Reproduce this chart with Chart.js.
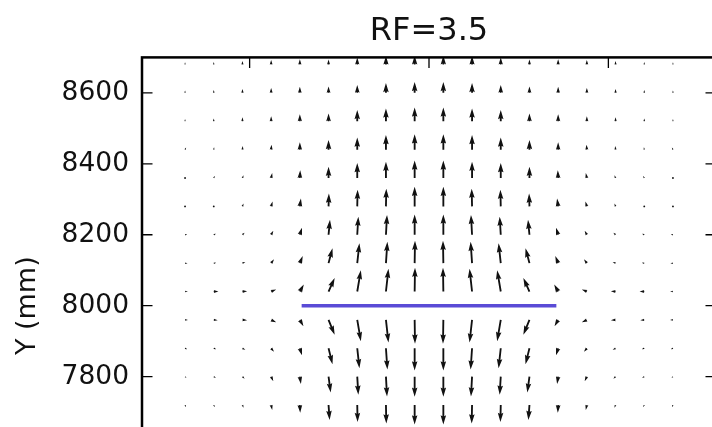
<!DOCTYPE html>
<html>
<head>
<meta charset="utf-8">
<title>RF=3.5</title>
<script src="https://cdn.jsdelivr.net/npm/chart.js@4.4.1/dist/chart.umd.min.js"></script>
<style>
    html, body { margin: 0; padding: 0; overflow: hidden; background: #fff; }
    canvas { display: block; }
</style>
</head>
<body>
<canvas id="quiverChart" width="760" height="620"></canvas>
<script>
// ======================
// DATA (mm)
// ======================
const columnsX = [-680, -600, -520, -440, -360, -280, -200, -120, -40, 40, 120, 200, 280, 360, 440, 520, 600, 680];
const rowsY = [8680, 8600, 8520, 8440, 8360, 8280, 8200, 8120, 8040, 7960, 7880, 7800, 7720];

// horizontal component of each arrow, one line per row
const uRows = [
    [0, 0, 0, 0, 0, 0, 0, 0, 0, 0, 0, 0, 0, 0, 0, 0, 0, 0],
    [0, 0, 0, 0, 0, 0, 0, 0, 0, 0, 0, 0, 0, 0, 0, 0, 0, 0],
    [0, 0, 0, 0, 0, 0, 0, 0, 0, 0, 0, 0, 0, 0, 0, 0, 0, 0],
    [3, 1, 1, 1, 0, 0, 0, 0, 0, 0, 0, 0, 0, 0, -1, -1, -1, -3],
    [3, 3, 3, 3, 1, 0, 0, 0, 0, 0, 0, 0, 0, -1, -3, -3, -3, -3],
    [4, 4, 3, 4, 3, 1, 1, 1, 0, 0, -1, -1, -1, -3, -4, -3, -4, -4],
    [6, 6, 6, 6, 6, 4, 3, 3, 0, 0, -3, -3, -4, -6, -6, -6, -6, -6],
    [7, 7, 8, 8, 8, 11, 6, 4, 1, -1, -4, -6, -11, -8, -8, -8, -7, -7],
    [8, 13, 13, 14, 11, 17, 10, 7, 1, -1, -7, -10, -17, -11, -14, -13, -13, -8],
    [8, 11, 13, 14, 10, 17, 10, 7, 1, -1, -7, -10, -17, -10, -14, -13, -11, -8],
    [6, 7, 8, 8, 6, 11, 6, 4, 0, 0, -4, -6, -11, -6, -8, -8, -7, -6],
    [4, 6, 6, 6, 3, 6, 3, 3, 0, 0, -3, -3, -6, -3, -6, -6, -6, -4],
    [3, 3, 3, 3, 1, 3, 1, 1, 0, 0, -1, -1, -3, -1, -3, -3, -3, -3]
];

// vertical component of each arrow
const vRows = [
    [6, 7, 10, 13, 15, 14, 20, 24, 25, 25, 24, 20, 14, 15, 13, 10, 7, 6],
    [7, 8, 11, 14, 17, 18, 22, 28, 31, 31, 28, 22, 18, 17, 14, 11, 8, 7],
    [6, 8, 11, 14, 20, 22, 32, 36, 39, 39, 36, 32, 22, 20, 14, 11, 8, 6],
    [6, 7, 10, 14, 21, 27, 34, 41, 43, 43, 41, 34, 27, 21, 14, 10, 7, 6],
    [3, 6, 8, 14, 22, 32, 42, 46, 49, 49, 46, 42, 32, 22, 14, 8, 6, 3],
    [3, 3, 8, 14, 22, 36, 47, 50, 55, 55, 50, 47, 36, 22, 14, 8, 3, 3],
    [1, 3, 6, 11, 20, 42, 51, 56, 57, 57, 56, 51, 42, 20, 11, 6, 3, 1],
    [0, 1, 3, 11, 20, 42, 56, 60, 63, 63, 60, 56, 42, 20, 11, 3, 1, 0],
    [0, 0, 1, 6, 20, 38, 60, 64, 67, 67, 64, 60, 38, 20, 6, 1, 0, 0],
    [0, -1, -1, -7, -18, -42, -60, -64, -67, -67, -64, -60, -42, -18, -7, -1, -1, 0],
    [-3, -3, -4, -10, -20, -45, -56, -60, -63, -63, -60, -56, -45, -20, -10, -4, -3, -3],
    [-4, -4, -6, -13, -21, -45, -51, -56, -57, -57, -56, -51, -45, -21, -13, -6, -4, -4],
    [-6, -6, -8, -14, -22, -42, -48, -52, -55, -55, -52, -48, -42, -22, -14, -8, -6, -6]
];

// plate
const plateX = [-355, 355];
const plateY = [8000, 8000];

// ticks
const yTicks = [7400, 7600, 7800, 8000, 8200, 8400, 8600];
const xTicks = [-500, 0, 500];

const FONT = "'DejaVu Sans', 'Liberation Sans', sans-serif";
const TICK_LEN = 10.5;

// ======================
// ARROWS
// ======================
// arrow polygon in shaft widths: head width 3, head length 5, head axis length 4.5
function drawArrow(ctx, x0, y0, x1, y1, w) {
    const len = Math.hypot(x1 - x0, y1 - y0) / w;

    if (len < 1) {
        ctx.beginPath();
        ctx.arc(x0, y0, w / 2, 0, Math.PI * 2);
        ctx.fill();
        return;
    }

    let X = [0, len - 4.5, len - 5, len];
    let Y = [0.5, 0.5, 1.5, 0];
    if (len < 5) {
        // short arrows shrink as a whole
        const k = len / 5;
        X = [0, 0.5 * k, 0, 5 * k];
        Y = Y.map(v => v * k);
    }

    ctx.save();
    ctx.translate(x0, y0);
    ctx.rotate(Math.atan2(y1 - y0, x1 - x0));
    ctx.scale(w, w);
    ctx.beginPath();
    ctx.moveTo(X[0], Y[0]);
    ctx.lineTo(X[1], Y[1]);
    ctx.lineTo(X[2], Y[2]);
    ctx.lineTo(X[3], Y[3]);
    ctx.lineTo(X[2], -Y[2]);
    ctx.lineTo(X[1], -Y[1]);
    ctx.lineTo(X[0], -Y[0]);
    ctx.closePath();
    ctx.fill();
    ctx.restore();
}

const quiverPlugin = {
    id: 'quiver',
    afterDatasetsDraw(chart) {
        const { ctx, chartArea: a } = chart;
        const xs = chart.scales.x;
        const ys = chart.scales.y;

        chart.data.datasets.forEach((ds, i) => {
            if (!ds.quiver) return;
            const meta = chart.getDatasetMeta(i);

            ctx.save();
            ctx.beginPath();
            ctx.rect(a.left, a.top, a.right - a.left, a.bottom - a.top);
            ctx.clip();
            ctx.fillStyle = ds.arrowColor;

            meta.data.forEach((pt, j) => {
                const d = ds.data[j];
                const tx = xs.getPixelForValue(d.x + d.u);
                const ty = ys.getPixelForValue(d.y + d.v);
                drawArrow(ctx, pt.x, pt.y, tx, ty, ds.shaftWidth);
            });

            ctx.restore();
        });
    }
};

// box round the axes with inward ticks
const framePlugin = {
    id: 'frame',
    afterDraw(chart) {
        const { ctx, chartArea: a } = chart;
        const xs = chart.scales.x;
        const ys = chart.scales.y;

        ctx.save();
        ctx.strokeStyle = '#000';
        ctx.lineWidth = 1.3;
        ctx.beginPath();
        yTicks.forEach(t => {
            const py = ys.getPixelForValue(t);
            ctx.moveTo(a.left, py);
            ctx.lineTo(a.left + TICK_LEN, py);
            ctx.moveTo(a.right, py);
            ctx.lineTo(a.right - TICK_LEN, py);
        });
        xTicks.forEach(t => {
            const px = xs.getPixelForValue(t);
            ctx.moveTo(px, a.top);
            ctx.lineTo(px, a.top + TICK_LEN);
            ctx.moveTo(px, a.bottom);
            ctx.lineTo(px, a.bottom - TICK_LEN);
        });
        ctx.stroke();

        ctx.lineWidth = 2.5;
        ctx.strokeRect(a.left, a.top, a.right - a.left, a.bottom - a.top);
        ctx.restore();
    }
};

// ======================
// CHART
// ======================
const quiverPoints = [];
rowsY.forEach((y, r) => {
    columnsX.forEach((x, c) => {
        quiverPoints.push({ x, y, u: uRows[r][c], v: vRows[r][c] });
    });
});

new Chart(document.getElementById('quiverChart'), {
    type: 'scatter',
    data: {
        datasets: [
            {
                label: 'plate',
                data: plateX.map((x, i) => ({ x, y: plateY[i] })),
                showLine: true,
                borderColor: '#5a4bd6',
                borderWidth: 3.5,
                pointRadius: 0,
                pointHoverRadius: 0
            },
            {
                label: 'field',
                data: quiverPoints,
                quiver: true,
                arrowColor: '#111',
                shaftWidth: 1.85,
                pointRadius: 0,
                pointHoverRadius: 0
            }
        ]
    },
    options: {
        responsive: false,
        animation: false,
        events: [],
        layout: {
            padding: { top: 0, right: 44, bottom: 66, left: 0 }
        },
        scales: {
            x: {
                type: 'linear',
                min: -800,
                max: 800,
                display: false
            },
            y: {
                type: 'linear',
                min: 7300,
                max: 8700,
                afterBuildTicks: s => { s.ticks = yTicks.map(value => ({ value })); },
                afterFit: s => { s.width = 142; },
                grid: { display: false, drawTicks: false },
                border: { display: false },
                ticks: {
                    color: '#111',
                    padding: 13,
                    font: { family: FONT, size: 26.5 },
                    callback: v => String(v)
                },
                title: {
                    display: true,
                    text: 'Y (mm)',
                    color: '#111',
                    font: { family: FONT, size: 27 },
                    padding: { top: 12, bottom: 0 }
                }
            }
        },
        plugins: {
            legend: { display: false },
            tooltip: { enabled: false },
            title: {
                display: true,
                text: 'RF=3.5',
                fullSize: false,
                color: '#111',
                font: { family: FONT, size: 32, weight: 'normal' },
                padding: { top: 12, bottom: 7 }
            }
        }
    },
    plugins: [quiverPlugin, framePlugin]
});
</script>
</body>
</html>
